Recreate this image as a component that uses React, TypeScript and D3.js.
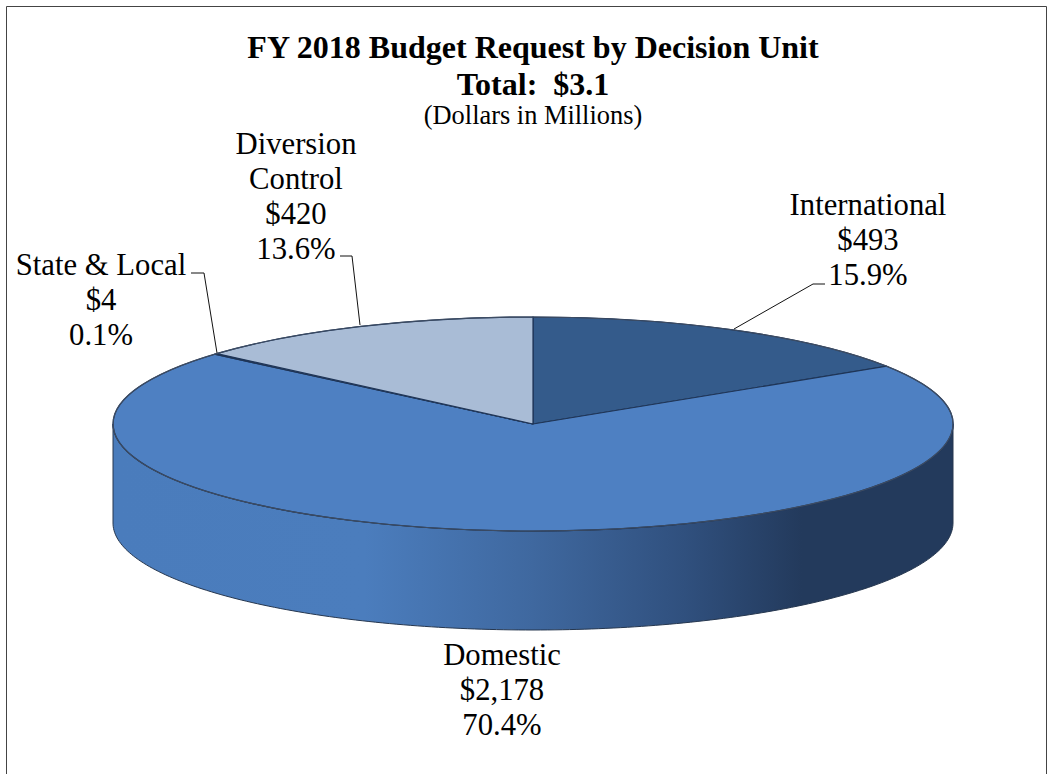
import React from "react";
import * as d3 from "d3";

const categories = ["International", "Domestic", "State & Local", "Diversion Control"];
const amounts = [493, 2178, 4, 420];
const amountLabels = ["$493", "$2,178", "$4", "$420"];
const shareLabels = ["15.9%", "70.4%", "0.1%", "13.6%"];
const sliceColors = ["#345b8b", "#4e80c2", "#2b4a75", "#a9bcd6"];
const titleLines = ["FY 2018 Budget Request by Decision Unit", "Total:  $3.1"];
const subtitle = "(Dollars in Millions)";

const W = 1047, H = 774;
const cx = 533, cy = 424, rx = 420, ry = 107, depth = 99;
const serif = "'Liberation Serif', 'Times New Roman', serif";

const labelLayout: Record<string, { x: number; y: number; lines: string[] }> = {
  International: { x: 868, y: 214.5, lines: ["International"] },
  Domestic: { x: 502, y: 664.5, lines: ["Domestic"] },
  "State & Local": { x: 101, y: 274.5, lines: ["State & Local"] },
  "Diversion Control": { x: 296, y: 153.5, lines: ["Diversion", "Control"] },
};
const leaders: [number, number][][] = [
  [[734, 329], [813, 284], [825, 284]],
  [[217, 353], [204, 273], [191, 273]],
  [[360, 325], [352, 256], [340, 256]],
];

export default function App() {
  const pie = d3.pie<number>().sort(null).startAngle(0).endAngle(2 * Math.PI);
  const arcs = pie(amounts);
  const arc = d3.arc<d3.PieArcDatum<number>>().innerRadius(0).outerRadius(1);
  const x = d3.scaleLinear().domain([-1, 1]).range([cx - rx, cx + rx]);
  const y = d3.scaleLinear().domain([-1, 1]).range([cy - ry, cy + ry]);
  const angles = d3.range(0, 181).map((d) => (d * Math.PI) / 180);
  const front = angles.map((a) => [x(Math.cos(a)), y(Math.sin(a))] as [number, number]);
  const wallPts: [number, number][] = [
    ...front,
    ...front.slice().reverse().map(([px, py]) => [px, py + depth] as [number, number]),
  ];
  const line = d3.line();
  const wall = line(wallPts) + "Z";
  return (
    <svg width={W} height={H} viewBox={`0 0 ${W} ${H}`} style={{ position: "absolute", left: 0, top: 0, background: "#fff" }} fontFamily={serif}>
      <defs>
        <linearGradient id="wallGrad" gradientUnits="userSpaceOnUse" x1={cx - rx} x2={cx + rx} y1="0" y2="0">
          <stop offset="0" stopColor="#4a7cbc" />
          <stop offset="0.3" stopColor="#4b7dbd" />
          <stop offset="0.5" stopColor="#3f689f" />
          <stop offset="0.68" stopColor="#30507e" />
          <stop offset="0.82" stopColor="#233a5c" />
          <stop offset="1" stopColor="#233a5c" />
        </linearGradient>
      </defs>
      <path d={`M1046.5,774V6.5H6.5V774`} fill="none" stroke="#444" strokeWidth={1} />
      <path d={wall} fill="url(#wallGrad)" stroke="#26374f" strokeWidth={1} />
      <g transform={`translate(${cx},${cy}) scale(${rx},${ry})`}>
        {arcs.map((d, i) => (
          <path key={categories[i]} d={arc(d) as string} fill={sliceColors[i]} stroke="#1f3557" strokeWidth={1.2} vectorEffect="non-scaling-stroke" />
        ))}
      </g>
      <ellipse cx={cx} cy={cy} rx={rx} ry={ry} fill="none" stroke="#3d4c63" strokeWidth={1.2} />
      {leaders.map((pts, i) => (
        <path key={i} d={line(pts) as string} fill="none" stroke="#111" strokeWidth={1} />
      ))}
      <g textAnchor="middle" fill="#000">
        <text x={533} y={58} fontSize={32} fontWeight="bold">{titleLines[0]}</text>
        <text x={533} y={95} fontSize={32} fontWeight="bold" style={{ whiteSpace: "pre" }}>{titleLines[1]}</text>
        <text x={533} y={124} fontSize={26.4}>{subtitle}</text>
        {categories.map((c, i) => {
          const l = labelLayout[c];
          const rows = [...l.lines, amountLabels[i], shareLabels[i]];
          return rows.map((r, j) => (
            <text key={c + j} x={l.x} y={l.y + j * 35.2} fontSize={30.7}>{r}</text>
          ));
        })}
      </g>
    </svg>
  );
}
